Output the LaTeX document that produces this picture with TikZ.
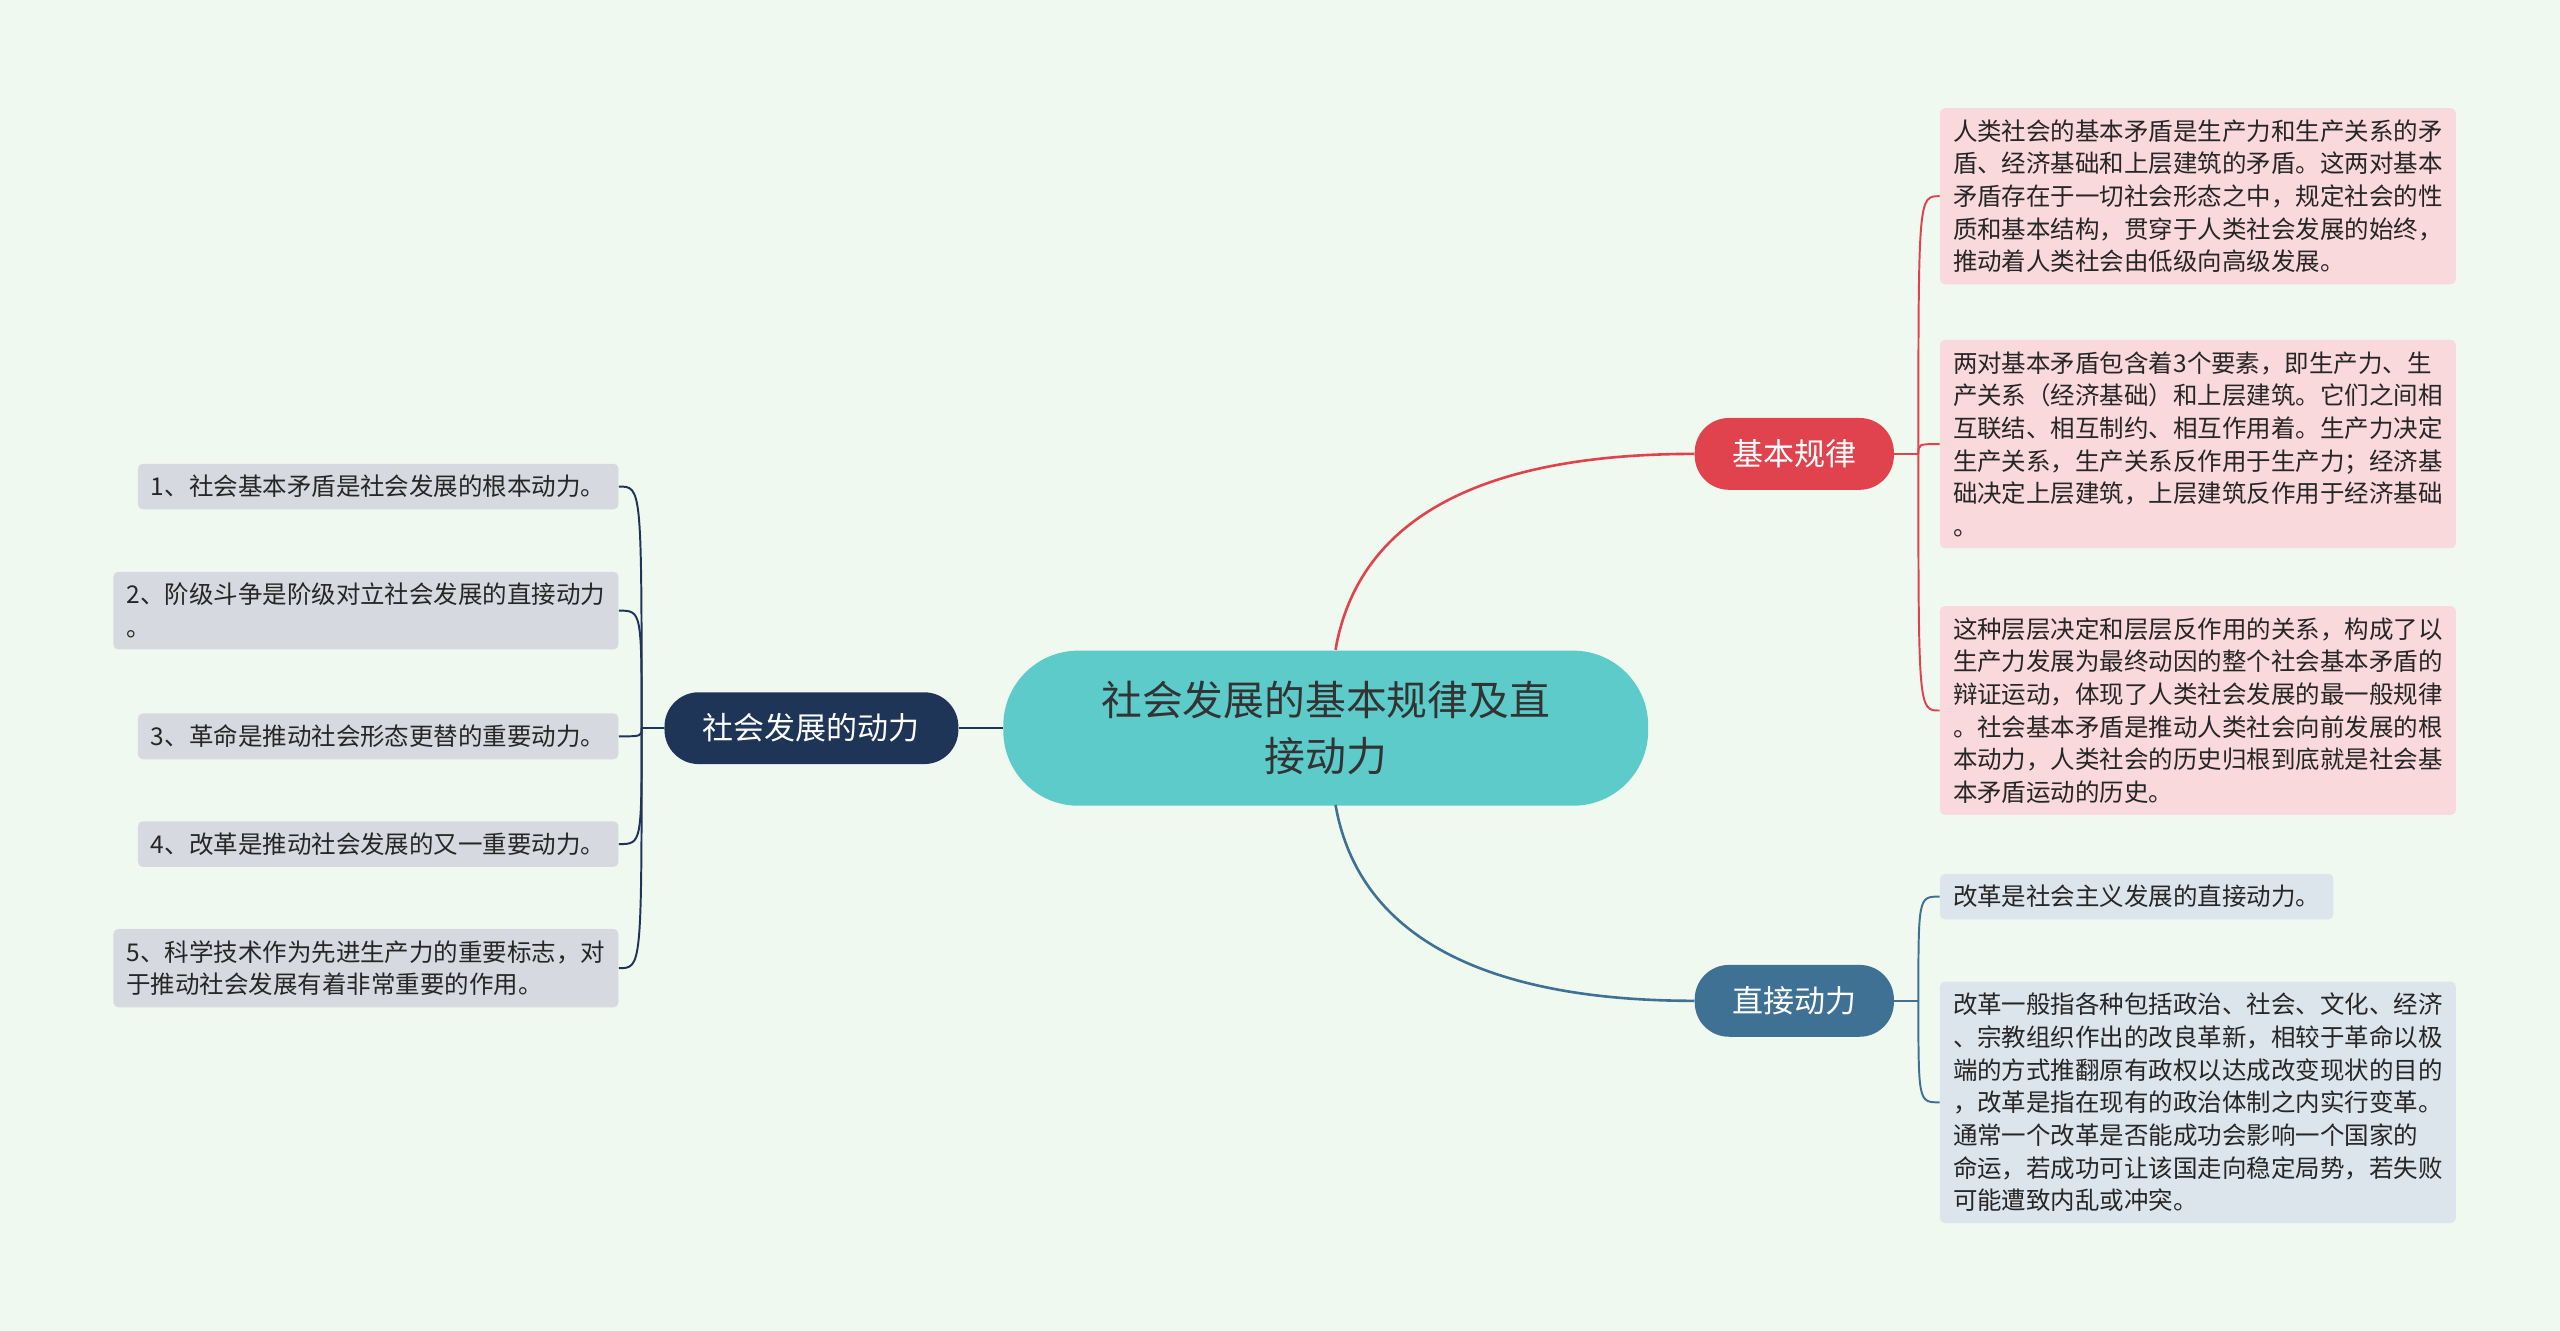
\documentclass[tikz,border=0pt]{standalone}
\usepackage{fontspec}
\setmainfont{Noto Sans CJK SC}
\begin{document}
\begin{tikzpicture}[x=1pt,y=-1pt,
 leaf/.style={rounded corners=3pt,inner xsep=8pt,inner ysep=7pt,align=left,font=\fontsize{15}{20}\selectfont,text=black!85},
 pink/.style={leaf,fill=pinkc,anchor=north west,text width=300pt},
 blue/.style={leaf,fill=bluec,anchor=north west},
 grey/.style={leaf,fill=greyc,anchor=east},
 mid/.style={rounded corners=21pt,minimum height=44pt,text=white,font=\fontsize{19}{20}\selectfont,inner xsep=14pt}]
\definecolor{bg}{HTML}{F0F9EF}
\definecolor{pinkc}{HTML}{FAD9DC}
\definecolor{bluec}{HTML}{DDE5EC}
\definecolor{greyc}{HTML}{D6D9DF}
\definecolor{redc}{HTML}{E0434D}
\definecolor{bluel}{HTML}{3F7195}
\definecolor{navy}{HTML}{1E3557}
\definecolor{teal}{HTML}{5ECBCB}
\fill[bg] (0,0) rectangle (1568,815);
\useasboundingbox (0,0) rectangle (1568,815);
\node[fill=teal,rounded corners=46pt,minimum width=395pt,minimum height=95pt,align=center,font=\fontsize{25}{34}\selectfont,text=black!80] (c) at (812,446) {社会发展的基本规律及直\\接动力};
\node[mid,fill=redc,minimum width=122pt] (jb) at (1099,278) {基本规律};
\node[mid,fill=bluel,minimum width=122pt] (zj) at (1099,613) {直接动力};
\node[mid,fill=navy,minimum width=180pt] (sd) at (497,446) {社会发展的动力};
\node[pink] (p1) at (1188,66) {人类社会的基本矛盾是生产力和生产关系的矛\\盾、经济基础和上层建筑的矛盾。这两对基本\\矛盾存在于一切社会形态之中，规定社会的性\\质和基本结构，贯穿于人类社会发展的始终，\\推动着人类社会由低级向高级发展。};
\node[pink] (p2) at (1188,208) {两对基本矛盾包含着3个要素，即生产力、生\\产关系（经济基础）和上层建筑。它们之间相\\互联结、相互制约、相互作用着。生产力决定\\生产关系，生产关系反作用于生产力；经济基\\础决定上层建筑，上层建筑反作用于经济基础\\。};
\node[pink] (p3) at (1188,371) {这种层层决定和层层反作用的关系，构成了以\\生产力发展为最终动因的整个社会基本矛盾的\\辩证运动，体现了人类社会发展的最一般规律\\。社会基本矛盾是推动人类社会向前发展的根\\本动力，人类社会的历史归根到底就是社会基\\本矛盾运动的历史。};
\node[blue] (b1) at (1188,535) {改革是社会主义发展的直接动力。};
\node[blue,text width=300pt] (b2) at (1188,601) {改革一般指各种包括政治、社会、文化、经济\\、宗教组织作出的改良革新，相较于革命以极\\端的方式推翻原有政权以达成改变现状的目的\\，改革是指在现有的政治体制之内实行变革。\\ 通常一个改革是否能成功会影响一个国家的\\命运，若成功可让该国走向稳定局势，若失败\\可能遭致内乱或冲突。};
\node[grey] (g1) at (379,298) {1、社会基本矛盾是社会发展的根本动力。};
\node[grey] (g2) at (379,374) {2、阶级斗争是阶级对立社会发展的直接动力\\。};
\node[grey] (g3) at (379,451) {3、革命是推动社会形态更替的重要动力。};
\node[grey] (g4) at (379,517) {4、改革是推动社会发展的又一重要动力。};
\node[grey] (g5) at (379,593) {5、科学技术作为先进生产力的重要标志，对\\于推动社会发展有着非常重要的作用。};
\draw[redc,line width=1.6pt] (818,398) .. controls (835,300) and (940,278) .. (jb.west);
\draw[bluel,line width=1.6pt] (818,493) .. controls (835,590) and (940,613) .. (zj.west);
\draw[navy,line width=1.6pt] (c.west) -- (sd.east);
\coordinate (jr) at (1175,278);
\draw[redc,line width=1.2pt] (jb.east) -- (jr);
\foreach \b in {p1,p2,p3} \draw[redc,line width=1.2pt] (jr) .. controls (jr|-\b.west) .. (\b.west);
\coordinate (zr) at (1175,613);
\draw[bluel,line width=1.2pt] (zj.east) -- (zr);
\foreach \b in {b1,b2} \draw[bluel,line width=1.2pt] (zr) .. controls (zr|-\b.west) .. (\b.west);
\coordinate (sl) at (393,446);
\draw[navy,line width=1.2pt] (sd.west) -- (sl);
\foreach \b in {g1,g2,g3,g4,g5} \draw[navy,line width=1.2pt] (sl) .. controls (sl|-\b.east) .. (\b.east);
\end{tikzpicture}
\end{document}
